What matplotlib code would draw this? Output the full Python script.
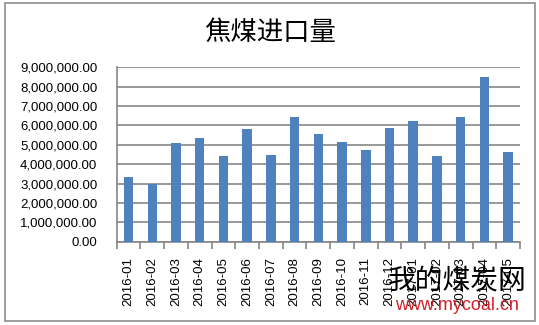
import matplotlib.pyplot as plt
from matplotlib.patches import Rectangle
from matplotlib.ticker import FuncFormatter, FixedLocator

plt.rcParams['font.family'] = ['Liberation Sans', 'Noto Sans CJK SC', 'DejaVu Sans']

months = ["2016-01", "2016-02", "2016-03", "2016-04", "2016-05", "2016-06",
          "2016-07", "2016-08", "2016-09", "2016-10", "2016-11", "2016-12",
          "2017-01", "2017-02", "2017-03", "2017-04", "2017-05"]
imports = [3330000, 3000000, 5090000, 5350000, 4430000, 5810000,
           4470000, 6420000, 5550000, 5140000, 4730000, 5860000,
           6220000, 4420000, 6430000, 8500000, 4620000]

W, H = 539, 325
fig = plt.figure(figsize=(W / 100, H / 100), dpi=100)

# outer chart frame
fig.patches.append(Rectangle((5 / W, 1 - 321 / H), 530 / W, 318 / H,
                             transform=fig.transFigure, fill=False,
                             edgecolor="#8c8c8c", linewidth=1.2))

ax = fig.add_axes([116.7 / W, 1 - 241.7 / H, (520 - 116.7) / W, (241.7 - 67.3) / H])
x = range(len(months))
ax.bar(x, imports, width=0.4, color="#4f81bd", zorder=3)

ax.set_xlim(-0.5, len(months) - 0.5)
ax.set_ylim(0, 9000000)
ax.set_yticks(range(0, 9000001, 1000000))
ax.yaxis.set_major_formatter(FuncFormatter(lambda v, p: f"{v:,.2f}"))
ax.grid(axis="y", color="#868686", linewidth=1.2, zorder=0)
ax.tick_params(axis="y", length=0, pad=14, labelsize=9.5, colors="black")
ax.set_xticks(list(x))
ax.set_xticklabels(months, rotation=90, fontsize=9.5)
ax.xaxis.set_minor_locator(FixedLocator([i - 0.5 for i in range(len(months) + 1)]))
ax.tick_params(axis="x", which="major", length=0, pad=11)
ax.tick_params(axis="x", which="minor", length=5, color="#868686", width=1.2, direction="out")
for s in ["top", "right"]:
    ax.spines[s].set_visible(False)
for s in ["left", "bottom"]:
    ax.spines[s].set_color("#868686")
    ax.spines[s].set_linewidth(1.2)

fig.text(270 / W, 1 - 32 / H, "焦煤进口量", ha="center", va="center",
         fontsize=19, family=['Noto Sans CJK SC'], fontweight="medium")

# watermark
fig.text(457 / W, 1 - 280 / H, "我的煤炭网", ha="center", va="center",
         fontsize=20, family=['Noto Sans CJK SC'], color="black", zorder=5)
fig.text(457 / W, 1 - 305 / H, "www.mycoal.cn", ha="center", va="center",
         fontsize=13, color="#d0202a", zorder=5)

fig.savefig("out.png", dpi=100)
